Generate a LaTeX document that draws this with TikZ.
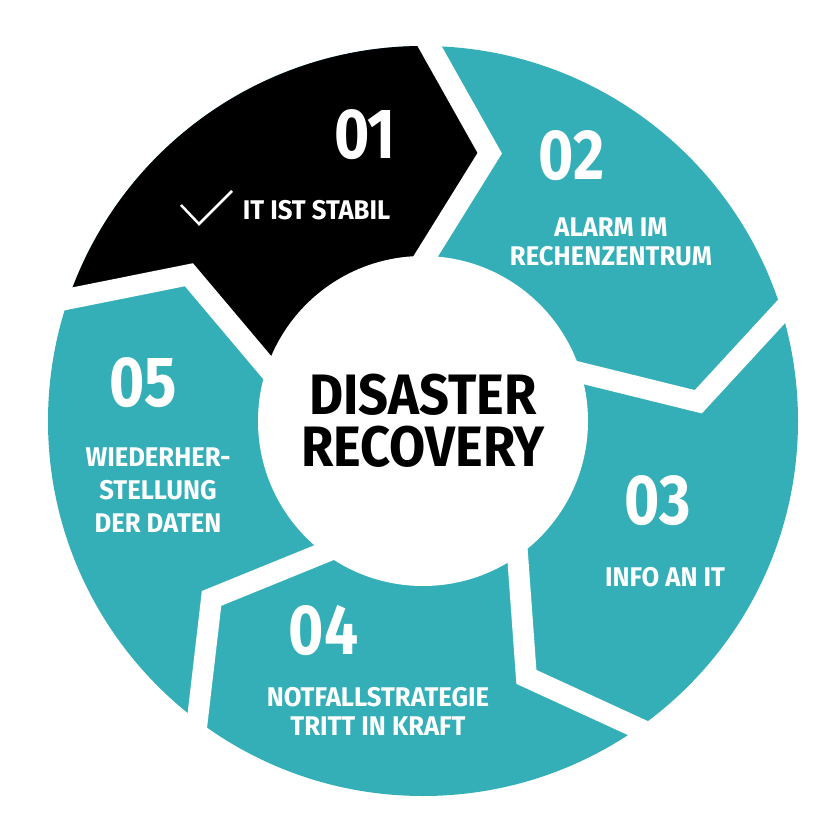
\documentclass[tikz,border=0pt]{standalone}
\usepackage{fontspec}
\usepackage{tikz}
\usetikzlibrary{calc}
\newfontfamily\capfont[FakeStretch=0.95]{Fira Sans}
\newfontfamily\hubfont[FakeStretch=0.92]{Fira Sans}
\newfontfamily\digitfont[FakeStretch=0.85]{Fira Sans}
\definecolor{drteal}{RGB}{52,175,183}

\begin{document}
\begin{tikzpicture}[x=1pt, y=1pt,
    gapline/.style={white, line width=21pt, line join=miter},
    stepnum/.style={font=\digitfont\bfseries\fontsize{71}{71}\selectfont, text=white, inner sep=0pt},
    steptext/.style={font=\capfont\bfseries\fontsize{27}{29}\selectfont, text=white, align=center, inner sep=0pt},
    hub/.style={circle, fill=white, minimum size=330pt, inner sep=0pt, align=center,
        font=\hubfont\bfseries\fontsize{57}{52}\selectfont}
]
    \useasboundingbox (-423,-419) rectangle (417,421);
    \fill[drteal] (0,0) circle (375);
    \fill[black] (161:375) arc[start angle=161, end angle=89, radius=375]
        -- (76:276) -- (89:165) -- (0,0) -- (161:165) -- (148:276) -- cycle;
    \foreach \b in {161,89,17,-55,-127} {
        \draw[gapline] ($(\b-13:276)!1.2!(\b:375)$) -- (\b:375) -- (\b-13:276)
            -- (\b:165) -- ($(\b-13:276)!1.4!(\b:165)$);
    }
    \node[hub] (hub) at (0,0) {DISASTER\\RECOVERY};

    \node[stepnum] (n1) at (-58,286) {01};
    \node[stepnum] (n2) at (148.6,265) {02};
    \node[stepnum] (n3) at (235,-79.5) {03};
    \node[stepnum] (n4) at (-99.4,-209.5) {04};
    \node[stepnum] (n5) at (-279.5,38) {05};

    \draw[white, line width=2.5pt] (-242,216) -- (-224,197) -- (-191,230);
    \node[steptext] (t1) at (-106.5,210.5) {IT IST STABIL};
    \node[steptext] (t2) at (188,179.5) {ALARM IM\\RECHENZENTRUM};
    \node[steptext] (t3) at (242,-155.7) {INFO AN IT};
    \node[steptext] (t4) at (-45,-290.3) {NOTFALLSTRATEGIE\\TRITT IN KRAFT};
    \node[steptext] (t5) at (-265,-69) {WIEDERHER-\\[4pt]STELLUNG\\[4pt]DER DATEN};
\end{tikzpicture}
\end{document}
